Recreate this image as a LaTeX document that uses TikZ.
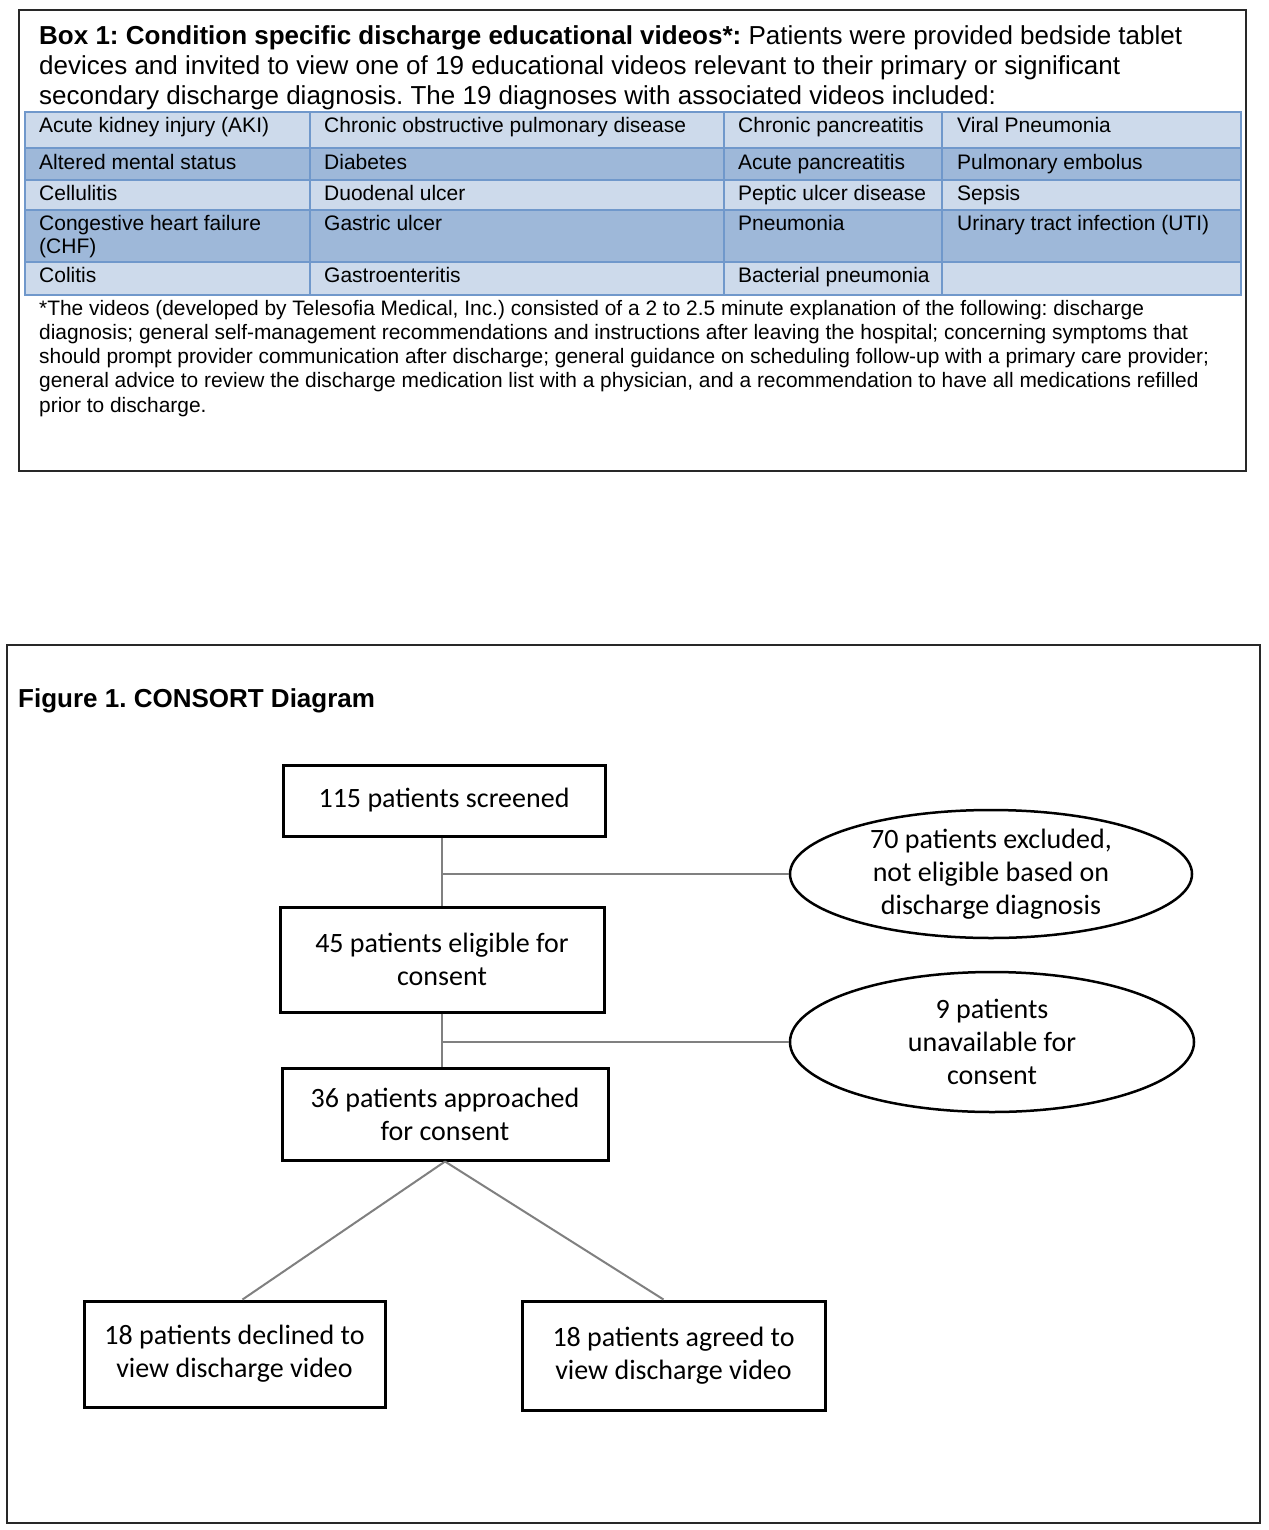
\documentclass[tikz,border=0pt]{standalone}
\usepackage{fontspec}
\setmainfont{Liberation Sans}
\newfontfamily\calibrifont{Carlito}
\usetikzlibrary{shapes.geometric,calc}
\definecolor{celllight}{RGB}{205,218,235}
\definecolor{celldark}{RGB}{158,184,217}
\definecolor{cellrule}{RGB}{112,152,203}
\definecolor{connector}{RGB}{128,128,128}
\definecolor{frame}{RGB}{40,40,40}
\frenchspacing
\begin{document}
\begin{tikzpicture}[x=1pt,y=-1pt,
  hdr/.style={anchor=base west,inner sep=0pt,font=\fontsize{26}{30}\selectfont},
  cell/.style={anchor=base west,inner sep=0pt,font=\fontsize{21}{24}\selectfont},
  note/.style={anchor=base west,inner sep=0pt,font=\fontsize{20.9}{24}\selectfont},
  flowbox/.style={draw=black,line width=3pt,rectangle,inner sep=0pt,align=center,
    font=\calibrifont\fontsize{28}{33}\selectfont},
  flowoval/.style={draw=black,line width=2.5pt,ellipse,inner sep=0pt,align=center,
    font=\calibrifont\fontsize{28}{33}\selectfont},
  link/.style={draw=connector,line width=2pt}]
\useasboundingbox[fill=white] (0,0) rectangle (1268,1530);

% ---------- Box 1 ----------
\draw[frame,line width=2pt] (19,10) rectangle (1246,471);
\node[hdr] (h1) at (39,45) {\textbf{Box 1: Condition specific discharge educational videos*:} Patients were provided bedside tablet};
\node[hdr] (h2) at (39,75) {devices and invited to view one of 19 educational videos relevant to their primary or significant};
\node[hdr] (h3) at (39,105) {secondary discharge diagnosis. The 19 diagnoses with associated videos included:};

% table fills
\fill[celllight] (25,112) rectangle (1241,148);
\fill[celldark]  (25,148) rectangle (1241,180);
\fill[celllight] (25,180) rectangle (1241,210);
\fill[celldark]  (25,210) rectangle (1241,262);
\fill[celllight] (25,262) rectangle (1241,295);
% grid
\draw[cellrule,line width=2.5pt] (25,112) rectangle (1241,295);
\foreach \yy in {148,180,210,262} \draw[cellrule,line width=2.5pt] (25,\yy) -- (1241,\yy);
\foreach \xx in {310,724,942} \draw[cellrule,line width=2.5pt] (\xx,112) -- (\xx,295);

% table text
\node[cell] (c11) at (39,133) {Acute kidney injury (AKI)};
\node[cell] (c12) at (324,133) {Chronic obstructive pulmonary disease};
\node[cell] (c13) at (738,133) {Chronic pancreatitis};
\node[cell] (c14) at (957,133) {Viral Pneumonia};
\node[cell] (c21) at (39,170) {Altered mental status};
\node[cell] (c22) at (324,170) {Diabetes};
\node[cell] (c23) at (738,170) {Acute pancreatitis};
\node[cell] (c24) at (957,170) {Pulmonary embolus};
\node[cell] (c31) at (39,201) {Cellulitis};
\node[cell] (c32) at (324,201) {Duodenal ulcer};
\node[cell] (c33) at (738,201) {Peptic ulcer disease};
\node[cell] (c34) at (957,201) {Sepsis};
\node[cell] (c41) at (39,231) {Congestive heart failure};
\node[cell] (c41b) at (39,254) {(CHF)};
\node[cell] (c42) at (324,231) {Gastric ulcer};
\node[cell] (c43) at (738,231) {Pneumonia};
\node[cell] (c44) at (957,231) {Urinary tract infection (UTI)};
\node[cell] (c51) at (39,282) {Colitis};
\node[cell] (c52) at (324,282) {Gastroenteritis};
\node[cell] (c53) at (738,282) {Bacterial pneumonia};

% footnote
\node[note] (n1) at (39,315) {*The videos (developed by Telesofia Medical, Inc.) consisted of a 2 to 2.5 minute explanation of the following: discharge};
\node[note] (n2) at (39,339) {diagnosis; general self-management recommendations and instructions after leaving the hospital; concerning symptoms that};
\node[note] (n3) at (39,363) {should prompt provider communication after discharge; general guidance on scheduling follow-up with a primary care provider;};
\node[note] (n4) at (39,387) {general advice to review the discharge medication list with a physician, and a recommendation to have all medications refilled};
\node[note] (n5) at (39,412) {prior to discharge.};

% ---------- Figure 1 ----------
\draw[frame,line width=2pt] (7,645) rectangle (1260,1523);
\node[hdr,font=\bfseries\fontsize{26}{30}\selectfont] (ftitle) at (18,707) {Figure 1. CONSORT Diagram};

\node[flowbox,minimum width=322pt,minimum height=71pt] (b1) at (444,800.5) {115 patients screened};
\node[flowbox,minimum width=324pt,minimum height=105pt] (b2) at (442,959.5) {45 patients eligible for\\consent};
\node[flowbox,minimum width=326pt,minimum height=92pt] (b3) at (445,1114) {36 patients approached\\for consent};
\node[flowbox,minimum width=301pt,minimum height=106pt] (b4) at (234.5,1354) {18 patients declined to\\view discharge video};
\node[flowbox,minimum width=303pt,minimum height=109pt] (b5) at (673.5,1355.5) {18 patients agreed to\\view discharge video};
\node[flowoval,minimum width=402pt,minimum height=128pt,inner ysep=-5pt] (e1) at (991,874) {70 patients excluded,\\not eligible based on\\discharge diagnosis};
\node[flowoval,minimum width=404pt,minimum height=140pt,inner ysep=-5pt] (e2) at (992,1042) {9 patients\\unavailable for\\consent};

\draw[link] (b2.north |- b1.south) -- (b2.north);
\draw[link] (b2.north |- e1.west) -- (e1.west);
\draw[link] (b2.south) -- (b2.south |- b3.north);
\draw[link] (b2.south |- e2.west) -- (e2.west);
\draw[link] (b3.south) -- ([xshift=8pt]b4.north);
\draw[link] (b3.south) -- ([xshift=-10pt]b5.north);
\end{tikzpicture}
\end{document}
